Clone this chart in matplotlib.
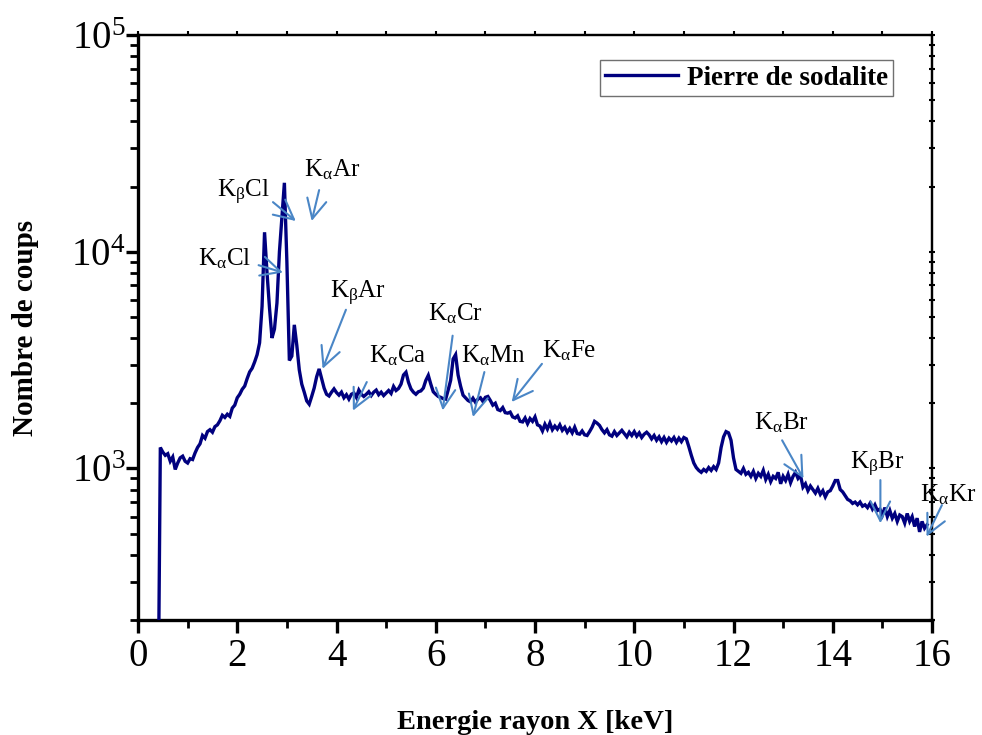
import numpy as np
import matplotlib
matplotlib.use("Agg")
import matplotlib.pyplot as plt
from matplotlib.ticker import MultipleLocator, LogLocator, FixedLocator, FixedFormatter, NullFormatter

plt.rcParams['font.family'] = ['Liberation Serif', 'DejaVu Serif']
plt.rcParams['mathtext.fontset'] = 'custom'
plt.rcParams['mathtext.rm'] = 'Liberation Serif'
plt.rcParams['mathtext.it'] = 'Liberation Serif:italic'
plt.rcParams['mathtext.bf'] = 'Liberation Serif:bold'

# ---------------- data ----------------
e_start = 0.40      # keV, first channel
e_step = 0.05       # keV per channel
counts = [
    50, 1250, 1190, 1150, 1170, 1080, 1130, 990, 1060, 1120,          # 0.40-0.85
    1140, 1080, 1060, 1110, 1100, 1180, 1250, 1300, 1420, 1380,       # 0.90-1.35
    1480, 1510, 1470, 1560, 1590, 1660, 1760, 1720, 1780, 1740,       # 1.40-1.85
    1900, 1960, 2120, 2200, 2320, 2400, 2600, 2790, 2900, 3100,       # 1.90-2.35
    3350, 3800, 5600, 12300, 8000, 5500, 4000, 4400, 5800, 10000,     # 2.40-2.85
    14500, 20800, 9000, 3150, 3300, 4600, 3700, 2850, 2450, 2250,     # 2.90-3.35
    2050, 1980, 2150, 2350, 2650, 2880, 2600, 2350, 2200, 2160,       # 3.40-3.85
    2250, 2330, 2240, 2180, 2250, 2120, 2190, 2090, 2200, 2230,       # 3.90-4.35
    2130, 2300, 2200, 2150, 2200, 2260, 2170, 2250, 2300, 2190,       # 4.40-4.85
    2250, 2170, 2230, 2290, 2220, 2390, 2290, 2340, 2450, 2700,       # 4.90-5.35
    2780, 2500, 2330, 2250, 2200, 2260, 2280, 2350, 2550, 2690,       # 5.40-5.85
    2450, 2260, 2200, 2150, 2130, 2100, 2090, 2300, 2550, 3200,       # 5.90-6.35
    3350, 2700, 2400, 2180, 2120, 2060, 2030, 2110, 2020, 2090,       # 6.40-6.85
    2120, 2040, 2130, 2150, 2060, 1960, 2000, 1870, 1850, 1910,       # 6.90-7.35
    1810, 1800, 1820, 1730, 1710, 1750, 1650, 1640, 1710, 1610,       # 7.40-7.85
    1700, 1650, 1730, 1590, 1570, 1490, 1600, 1520, 1620, 1510,       # 7.90-8.35
    1570, 1520, 1590, 1500, 1550, 1470, 1530, 1460, 1550, 1450,       # 8.40-8.85
    1440, 1490, 1430, 1420, 1480, 1550, 1650, 1620, 1580, 1510,       # 8.90-9.35
    1460, 1510, 1430, 1410, 1480, 1420, 1460, 1500, 1450, 1400,       # 9.40-9.85
    1470, 1420, 1480, 1410, 1460, 1390, 1440, 1470, 1430, 1370,       # 9.90-10.35
    1420, 1350, 1400, 1330, 1390, 1320, 1380, 1340, 1390, 1320,       # 10.40-10.85
    1380, 1330, 1390, 1370, 1260, 1150, 1060, 1010, 980, 960,         # 10.90-11.35
    990, 970, 1010, 980, 1020, 990, 1060, 1250, 1400, 1480,           # 11.40-11.85
    1460, 1350, 1120, 990, 970, 950, 1000, 940, 960, 920,             # 11.90-12.35
    970, 900, 950, 920, 980, 890, 940, 870, 920, 900,                 # 12.40-12.85
    960, 850, 920, 880, 940, 860, 920, 960, 900, 930,                 # 12.90-13.35
    820, 850, 790, 830, 800, 770, 810, 760, 790, 740,                 # 13.40-13.85
    780, 790, 830, 880, 880, 800, 780, 750, 720, 710,                 # 13.90-14.35
    690, 700, 680, 700, 670, 680, 660, 690, 650, 680,                 # 14.40-14.85
    640, 650, 610, 660, 600, 640, 590, 620, 570, 610,                 # 14.90-15.35
    600, 560, 620, 570, 600, 540, 590, 510, 570, 530,                 # 15.40-15.85
    550,                                                              # 15.90
]
energy = e_start + e_step * np.arange(len(counts))

series_label = "Pierre de sodalite"
x_label = "Energie rayon X [keV]"
y_label = "Nombre de coups"

# peak annotations: label, text position (keV, counts), arrow tail, arrow tip
peak_labels = [r"K$_{\mathrm{\alpha}}$Cl", r"K$_{\mathrm{\beta}}$Cl", r"K$_{\mathrm{\alpha}}$Ar",
               r"K$_{\mathrm{\beta}}$Ar", r"K$_{\mathrm{\alpha}}$Ca", r"K$_{\mathrm{\alpha}}$Cr",
               r"K$_{\mathrm{\alpha}}$Mn", r"K$_{\mathrm{\alpha}}$Fe", r"K$_{\mathrm{\alpha}}$Br",
               r"K$_{\mathrm{\beta}}$Br", r"K$_{\mathrm{\alpha}}$Kr"]
label_pos = [(1.75, 9240), (2.12, 18780), (3.91, 23940), (4.44, 6440), (5.24, 3310),
             (6.39, 5160), (7.16, 3310), (8.69, 3490), (12.96, 1627), (14.90, 1043), (16.33, 759)]
arrow_tail = [(2.43, 8670), (2.72, 16940), (3.65, 19250), (4.19, 5400), (4.61, 2505),
              (6.34, 4100), (6.98, 2786), (8.14, 3040), (12.98, 1349), (14.96, 884), (16.20, 678)]
arrow_tip = [(2.92, 8020), (3.18, 13860), (3.50, 13860), (3.72, 2884), (4.33, 1849),
             (6.14, 1853), (6.75, 1728), (7.53, 2027), (13.41, 899), (14.96, 559), (15.89, 485)]

# ---------------- figure ----------------
W, H = 982, 735
fig = plt.figure(figsize=(W / 100, H / 100), dpi=100)
ax = fig.add_axes([138 / W, 1 - 620 / H, (932 - 138) / W, (620 - 35) / H])

line_color = '#00007f'
arrow_color = '#4a86c6'

ax.plot(energy, counts, color=line_color, lw=2.4, label=series_label, zorder=3,
        solid_joinstyle='miter')

ax.set_yscale('log')
ax.set_xlim(0, 16)
ax.set_ylim(200, 1e5)

for lab, tp, tail, tip in zip(peak_labels, label_pos, arrow_tail, arrow_tip):
    ax.annotate('', xy=tip, xytext=tail,
                arrowprops=dict(arrowstyle='->,head_length=0.5,head_width=0.25',
                                color=arrow_color, lw=1.5,
                                mutation_scale=28, shrinkA=0, shrinkB=0),
                annotation_clip=False, zorder=4)
    ax.text(tp[0], tp[1], lab, fontsize=18, ha='center', va='center', color='black',
            clip_on=False, zorder=5)

# axes styling
for side in ['left', 'bottom']:
    ax.spines[side].set_linewidth(2.4)
for side in ['top', 'right']:
    ax.spines[side].set_linewidth(1.6)

ax.xaxis.set_major_locator(MultipleLocator(2))
ax.xaxis.set_minor_locator(MultipleLocator(1))
ax.yaxis.set_major_locator(FixedLocator([1e3, 1e4, 1e5]))
ax.yaxis.set_major_formatter(FixedFormatter([r'$10^{3}$', r'$10^{4}$', r'$10^{5}$']))
ax.yaxis.set_minor_locator(LogLocator(base=10, subs=np.arange(2, 10)))
ax.yaxis.set_minor_formatter(NullFormatter())

ax.tick_params(axis='both', which='major', direction='out', length=9, width=2.4,
               labelsize=28)
ax.tick_params(axis='both', which='minor', direction='out', length=6, width=2.0)
ax.tick_params(axis='x', which='major', pad=4)
ax.tick_params(axis='y', which='major', pad=0)

# small ticks on the top and right frame
secx = ax.secondary_xaxis('top')
secx.xaxis.set_major_locator(MultipleLocator(1))
secx.tick_params(direction='out', length=3, width=1.5, labeltop=False)
secx.spines['top'].set_linewidth(1.6)
secy = ax.secondary_yaxis('right')
secy.yaxis.set_major_locator(FixedLocator([1e3, 1e4, 1e5]))
secy.yaxis.set_minor_locator(LogLocator(base=10, subs=np.arange(2, 10)))
secy.yaxis.set_minor_formatter(NullFormatter())
secy.tick_params(which='both', direction='inout', length=4, width=1.5, labelright=False)
secy.spines['right'].set_linewidth(1.6)

ax.set_xlabel(x_label, fontsize=20.5, fontweight='bold', labelpad=25)
ax.set_ylabel(y_label, fontsize=21, fontweight='bold', labelpad=23)

leg = ax.legend(loc='upper right', bbox_to_anchor=(0.951, 0.957), fancybox=False,
                frameon=True, edgecolor='#707070', framealpha=1,
                prop=dict(family='Liberation Serif', weight='bold', size=19.5),
                handlelength=2.7, handletextpad=0.3, borderpad=0.2, borderaxespad=0)
leg.get_frame().set_linewidth(1.0)
for l in leg.get_lines():
    l.set_linewidth(2.4)

fig.savefig('out.png', dpi=100)
